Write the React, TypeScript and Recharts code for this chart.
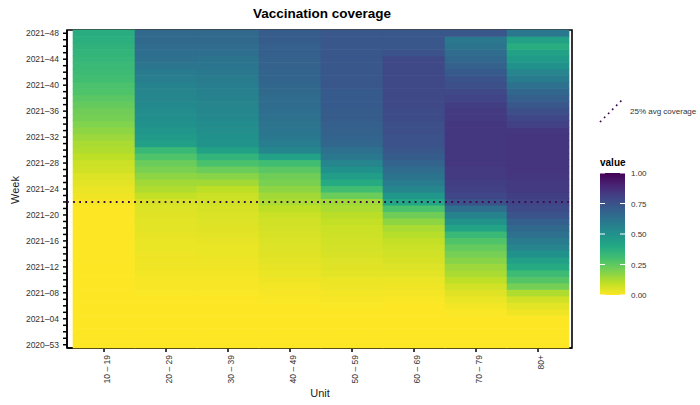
import React from 'react';
import { ScatterChart, Scatter, XAxis, YAxis, ReferenceArea } from 'recharts';

const AGE_GROUPS = ['10 – 19', '20 – 29', '30 – 39', '40 – 49', '50 – 59', '60 – 69', '70 – 79', '80+'];

const WEEKS = [
  '2020–53', '2021–01', '2021–02', '2021–03', '2021–04', '2021–05', '2021–06', '2021–07', '2021–08', '2021–09',
  '2021–10', '2021–11', '2021–12', '2021–13', '2021–14', '2021–15', '2021–16', '2021–17', '2021–18', '2021–19',
  '2021–20', '2021–21', '2021–22', '2021–23', '2021–24', '2021–25', '2021–26', '2021–27', '2021–28', '2021–29',
  '2021–30', '2021–31', '2021–32', '2021–33', '2021–34', '2021–35', '2021–36', '2021–37', '2021–38', '2021–39',
  '2021–40', '2021–41', '2021–42', '2021–43', '2021–44', '2021–45', '2021–46', '2021–47', '2021–48',
];

// coverage per week, first value = 2020-53, last = 2021-48
const COV_10_19 = [
  0, 0, 0, 0, 0, 0, 0, 0, 0, 0,
  0, 0, 0, 0, 0, 0, 0, 0, 0, 0,
  0, 0, 0.01, 0.02, 0.03, 0.04, 0.05, 0.07, 0.08, 0.1,
  0.12, 0.13, 0.15, 0.17, 0.19, 0.21, 0.22, 0.24, 0.26, 0.28,
  0.29, 0.31, 0.32, 0.33, 0.34, 0.35, 0.36, 0.37, 0.38,
];
const COV_20_29 = [
  0, 0, 0, 0, 0, 0, 0, 0, 0.005, 0.01,
  0.01, 0.015, 0.02, 0.02, 0.025, 0.03, 0.03, 0.035, 0.04, 0.04,
  0.045, 0.05, 0.06, 0.09, 0.12, 0.14, 0.17, 0.2, 0.23, 0.28,
  0.33, 0.44, 0.46, 0.48, 0.5, 0.51, 0.52, 0.53, 0.54, 0.55,
  0.56, 0.58, 0.59, 0.61, 0.63, 0.64, 0.65, 0.66, 0.66,
];
const COV_30_39 = [
  0, 0, 0, 0, 0, 0, 0, 0, 0.005, 0.01,
  0.01, 0.015, 0.02, 0.025, 0.03, 0.03, 0.035, 0.04, 0.045, 0.05,
  0.055, 0.06, 0.07, 0.08, 0.1, 0.14, 0.18, 0.23, 0.29, 0.35,
  0.43, 0.49, 0.5, 0.51, 0.52, 0.53, 0.54, 0.55, 0.56, 0.57,
  0.58, 0.59, 0.6, 0.61, 0.62, 0.64, 0.65, 0.66, 0.66,
];
const COV_40_49 = [
  0, 0, 0, 0, 0, 0, 0, 0.005, 0.01, 0.015,
  0.02, 0.03, 0.035, 0.04, 0.045, 0.05, 0.055, 0.06, 0.065, 0.07,
  0.08, 0.1, 0.125, 0.14, 0.17, 0.2, 0.22, 0.26, 0.31, 0.43,
  0.54, 0.58, 0.6, 0.61, 0.62, 0.63, 0.64, 0.65, 0.65, 0.66,
  0.67, 0.68, 0.68, 0.69, 0.69, 0.7, 0.7, 0.71, 0.71,
];
const COV_50_59 = [
  0, 0, 0, 0, 0, 0, 0.005, 0.01, 0.015, 0.025,
  0.03, 0.04, 0.045, 0.05, 0.06, 0.065, 0.07, 0.075, 0.08, 0.09,
  0.105, 0.125, 0.14, 0.23, 0.31, 0.39, 0.45, 0.5, 0.55, 0.6,
  0.63, 0.67, 0.68, 0.69, 0.7, 0.71, 0.71, 0.72, 0.72, 0.72,
  0.73, 0.73, 0.73, 0.73, 0.73, 0.73, 0.73, 0.73, 0.73,
];
const COV_60_69 = [
  0, 0, 0, 0, 0, 0, 0, 0.006, 0.012, 0.02,
  0.03, 0.04, 0.05, 0.06, 0.07, 0.08, 0.09, 0.11, 0.13, 0.17,
  0.22, 0.29, 0.4, 0.48, 0.54, 0.59, 0.62, 0.65, 0.68, 0.71,
  0.73, 0.75, 0.75, 0.76, 0.76, 0.77, 0.77, 0.78, 0.78, 0.78,
  0.78, 0.78, 0.78, 0.78, 0.78, 0.75, 0.73, 0.73, 0.73,
];
const COV_70_79 = [
  0, 0, 0, 0, 0, 0.005, 0.015, 0.03, 0.045, 0.07,
  0.1, 0.13, 0.15, 0.18, 0.21, 0.24, 0.28, 0.33, 0.42, 0.49,
  0.56, 0.64, 0.75, 0.79, 0.81, 0.82, 0.83, 0.83, 0.84, 0.84,
  0.84, 0.84, 0.84, 0.84, 0.84, 0.83, 0.83, 0.82, 0.8, 0.78,
  0.76, 0.74, 0.72, 0.69, 0.67, 0.65, 0.62, 0.6, 0.73,
];
const COV_80_PLUS = [
  0, 0, 0, 0, 0, 0.02, 0.04, 0.07, 0.12, 0.21,
  0.27, 0.32, 0.39, 0.44, 0.5, 0.55, 0.59, 0.63, 0.66, 0.7,
  0.74, 0.77, 0.8, 0.82, 0.83, 0.83, 0.84, 0.85, 0.85, 0.85,
  0.85, 0.85, 0.85, 0.84, 0.81, 0.79, 0.76, 0.73, 0.7, 0.67,
  0.63, 0.59, 0.55, 0.5, 0.46, 0.43, 0.38, 0.43, 0.6,
];

const COVERAGE = [COV_10_19, COV_20_29, COV_30_39, COV_40_49, COV_50_59, COV_60_69, COV_70_79, COV_80_PLUS];

const AVG_LINE_WEEK = 22; // 2021-22
const LEGEND_TICKS = [1, 0.75, 0.5, 0.25, 0];

// viridis palette, 0 -> 1 in steps of 0.1
const VIRIDIS = [
  '#440154', '#482475', '#414487', '#355f8d', '#2a788e', '#21918c',
  '#22a884', '#44bf70', '#7ad151', '#bddf26', '#fde725',
];

const FONT = '"Liberation Sans", Arial, sans-serif';
const LINE_COLOR = '#3b0b4c';
const WIDTH = 700;
const HEIGHT = 405;
const MARGIN = { top: 30, right: 128, bottom: 0, left: 0 };
const Y_AXIS_W = 67;
const X_AXIS_H = 57;
const X_DOMAIN: [number, number] = [-0.597, 7.548];
const Y_DOMAIN: [number, number] = [-0.5, 48.5];
const PLOT_W = WIDTH - MARGIN.left - MARGIN.right - Y_AXIS_W;
const PLOT_H = HEIGHT - MARGIN.top - MARGIN.bottom - X_AXIS_H;
const CELL_W = PLOT_W / (X_DOMAIN[1] - X_DOMAIN[0]);
const CELL_H = PLOT_H / (Y_DOMAIN[1] - Y_DOMAIN[0]);

const hexToRgb = (hex: string) => [1, 3, 5].map((i) => parseInt(hex.slice(i, i + 2), 16));

// reversed viridis: 0 = yellow, 1 = dark purple
const coverageColor = (value: number) => {
  const t = Math.min(1, Math.max(0, 1 - value)) * (VIRIDIS.length - 1);
  const i = Math.min(VIRIDIS.length - 2, Math.floor(t));
  const f = t - i;
  const a = hexToRgb(VIRIDIS[i]);
  const b = hexToRgb(VIRIDIS[i + 1]);
  const c = a.map((v, k) => Math.round(v + (b[k] - v) * f));
  return `rgb(${c[0]},${c[1]},${c[2]})`;
};

const cells = COVERAGE.flatMap((series, gi) =>
  series.map((value, wi) => ({ x: gi, y: wi, value })),
);

// two end points of the dotted average line, spanning the whole panel
const avgLine = X_DOMAIN.map((x) => ({ x, y: AVG_LINE_WEEK }));

const HeatCell = (props: any) => {
  const { cx, cy, payload } = props;
  return (
    <rect
      x={cx - CELL_W / 2 - 0.3}
      y={cy - CELL_H / 2 - 0.3}
      width={CELL_W + 0.6}
      height={CELL_H + 0.6}
      fill={coverageColor(payload.value)}
    />
  );
};

const NoDot = () => <g />;

const AgeTick = (props: any) => {
  const { x, y, payload } = props;
  return (
    <text
      transform={`translate(${x + 3},${y + 1}) rotate(-90)`}
      textAnchor="end"
      dominantBaseline="central"
      fontSize={8.5}
      fontFamily={FONT}
      fill="#333"
    >
      {AGE_GROUPS[payload.value]}
    </text>
  );
};

const Legend = () => (
  <svg
    width={WIDTH}
    height={HEIGHT}
    style={{ position: 'absolute', left: 0, top: 0, pointerEvents: 'none' }}
    fontFamily={FONT}
  >
    <defs>
      <linearGradient id="viridisBar" x1="0" y1="1" x2="0" y2="0">
        {VIRIDIS.map((_, i) => (
          <stop key={i} offset={i / (VIRIDIS.length - 1)} stopColor={coverageColor(i / (VIRIDIS.length - 1))} />
        ))}
      </linearGradient>
    </defs>
    <text x={322} y={18} textAnchor="middle" fontWeight="bold" fontSize={13.5} fill="#000">
      Vaccination coverage
    </text>
    <text transform="translate(19,190) rotate(-90)" textAnchor="middle" fontSize={11} fill="#222">
      Week
    </text>
    <text x={320} y={397} textAnchor="middle" fontSize={11} fill="#222">
      Unit
    </text>

    <line x1={600} y1={122} x2={622} y2={100} stroke={LINE_COLOR} strokeWidth={1.7} strokeDasharray="1.7 4" />
    <text x={630} y={114} fontSize={8} fill="#333">25% avg coverage</text>

    <text x={600} y={166} fontSize={10} fontWeight="bold" fill="#000">value</text>
    <rect x={600} y={173} width={25} height={122} fill="url(#viridisBar)" />
    {LEGEND_TICKS.map((v) => {
      const ty = 295 - v * 122;
      return (
        <g key={v}>
          <line x1={600} x2={605} y1={ty} y2={ty} stroke="#fff" strokeWidth={1} />
          <line x1={620} x2={625} y1={ty} y2={ty} stroke="#fff" strokeWidth={1} />
          <text x={631} y={ty + 3} fontSize={8} fill="#333">{v.toFixed(2)}</text>
        </g>
      );
    })}
  </svg>
);

export default function App() {
  return (
    <div style={{ position: 'absolute', left: 0, top: 0, width: WIDTH, height: HEIGHT, background: '#fff', fontFamily: FONT }}>
      <ScatterChart width={WIDTH} height={HEIGHT} margin={MARGIN}>
        <XAxis
          type="number"
          dataKey="x"
          domain={X_DOMAIN}
          ticks={AGE_GROUPS.map((_, i) => i)}
          interval={0}
          height={X_AXIS_H}
          tickSize={4}
          tickMargin={2}
          tick={<AgeTick />}
          axisLine={{ stroke: '#000', strokeWidth: 1.6 }}
          tickLine={{ stroke: '#000', strokeWidth: 1.5 }}
        />
        <YAxis
          type="number"
          dataKey="y"
          domain={Y_DOMAIN}
          ticks={WEEKS.map((_, i) => i)}
          interval={0}
          width={Y_AXIS_W}
          tickSize={4}
          tickMargin={4}
          tickFormatter={(i: number) => (i % 4 === 0 ? WEEKS[i] : '')}
          tick={{ fontSize: 8.5, fill: '#333', fontFamily: FONT }}
          axisLine={{ stroke: '#000', strokeWidth: 1.6 }}
          tickLine={{ stroke: '#000', strokeWidth: 1.5 }}
        />
        <ReferenceArea
          x1={X_DOMAIN[0]}
          x2={X_DOMAIN[1]}
          y1={Y_DOMAIN[0]}
          y2={Y_DOMAIN[1]}
          fill="none"
          fillOpacity={0}
          stroke="#000"
          strokeWidth={1.6}
        />
        <Scatter data={cells} shape={<HeatCell />} isAnimationActive={false} />
        <Scatter
          data={avgLine}
          shape={<NoDot />}
          line={{ stroke: LINE_COLOR, strokeWidth: 1.8, strokeDasharray: '1.8 4.3' }}
          isAnimationActive={false}
        />
      </ScatterChart>
      <Legend />
    </div>
  );
}
